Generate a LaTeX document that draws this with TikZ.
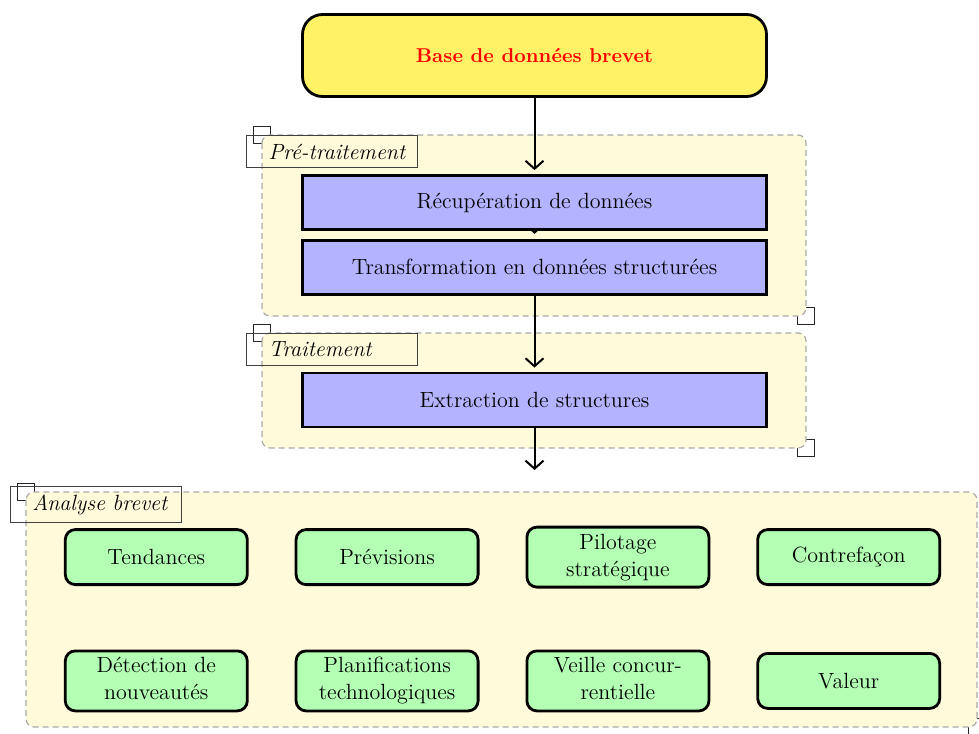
\documentclass[tikz,border=0pt]{standalone}
\usepackage{tikz}
\usetikzlibrary{matrix}
\usetikzlibrary{positioning}
\usetikzlibrary{backgrounds}
\usetikzlibrary{arrows.meta}

\definecolor{baseyellow}{RGB}{255,242,102}
\definecolor{stepblue}{RGB}{179,179,255}
\definecolor{usegreen}{RGB}{179,255,179}
\definecolor{groupfill}{RGB}{255,250,218}
\definecolor{groupline}{RGB}{170,170,170}

\newcommand{\twolines}[2]{\begin{tabular}{@{}c@{}}#1\\#2\end{tabular}}

\tikzset{
	basebox/.style={draw, line width=1.4pt, fill=baseyellow, rounded corners=10pt,
		minimum width=232pt, minimum height=41pt, text=red,
		font=\fontsize{10}{12}\selectfont\bfseries},
	stepbox/.style={draw, line width=1.4pt, fill=stepblue,
		minimum width=232pt, minimum height=27pt,
		font=\fontsize{11}{13.5}\selectfont},
	usebox/.style={draw, line width=1.4pt, fill=usegreen, rounded corners=5pt,
		minimum width=91pt, minimum height=27.5pt, inner sep=1.5pt, anchor=center,
		font=\fontsize{11}{13.5}\selectfont},
	group/.style={fill=groupfill, draw=groupline, dash pattern=on 3pt off 2pt,
		line width=0.6pt, rounded corners=4pt},
	grouptab/.style={draw=black!75, line width=0.5pt, anchor=north west,
		text width=63.5pt, inner xsep=11pt, inner ysep=0pt, minimum height=16pt,
		font=\fontsize{11}{13.5}\selectfont\itshape},
	cornermark/.style={draw=black!85, line width=0.5pt},
	flow/.style={->, line width=1pt, shorten >=2pt}
}

\begin{document}
\begin{tikzpicture}[x=0.5pt,y=-0.5pt,>={Straight Barb[length=4pt,width=9pt]}]
	\useasboundingbox (0,0) rectangle (979,733);
	% chain of steps
	\node[basebox] (base) at (534.5,55.5) {Base de données brevet};
	\node[stepbox] (recup) at (534.5,202.5) {Récupération de données};
	\node[stepbox, below=4pt of recup] (transf) {Transformation en données structurées};
	\node[stepbox] (extr) at (534.5,400) {Extraction de structures};
	\coordinate (analyse-in) at (534.5,470);
	% uses of the patents
	\matrix (uses) at (502.5,619) [%
	matrix of nodes,
	nodes={usebox},
	column sep=23pt,
	row sep=30.5pt,ampersand replacement=\&
	]
	{
		Tendances \& Prévisions \& \twolines{Pilotage}{stratégique} \& Contrefaçon \\
		\twolines{Détection de}{nouveautés} \& \twolines{Planifications}{technologiques} \& \twolines{Veille concur-}{rentielle} \& Valeur \\
	};
	\begin{pgfonlayer}{background}
		\foreach \cx/\cy in {262/135,806/316,262/333,806/448,26/492,977/727}
			\draw[cornermark] ({\cx-8.5},{\cy-8.5}) rectangle ++(17,17);
		\draw[group] (262,135) rectangle (806,316);
		\draw[group] (262,333) rectangle (806,448);
		\draw[group] (26,492) rectangle (977,727);
		\node[grouptab] (pre-tab) at (246,135) {\mbox{Pré-traitement}};
		\node[grouptab] (trait-tab) at (246,333) {\mbox{Traitement}};
		\node[grouptab, minimum height=18pt] (analyse-tab) at (10,486) {\mbox{Analyse brevet}};
		\draw[flow] (base) -- (recup);
		\draw[flow, shorten >=2.5pt] (recup) -- (transf);
		\draw[flow] (transf) -- (extr);
		\draw[flow, shorten >=0pt] (extr) -- (analyse-in);
	\end{pgfonlayer}
\end{tikzpicture}
\end{document}
